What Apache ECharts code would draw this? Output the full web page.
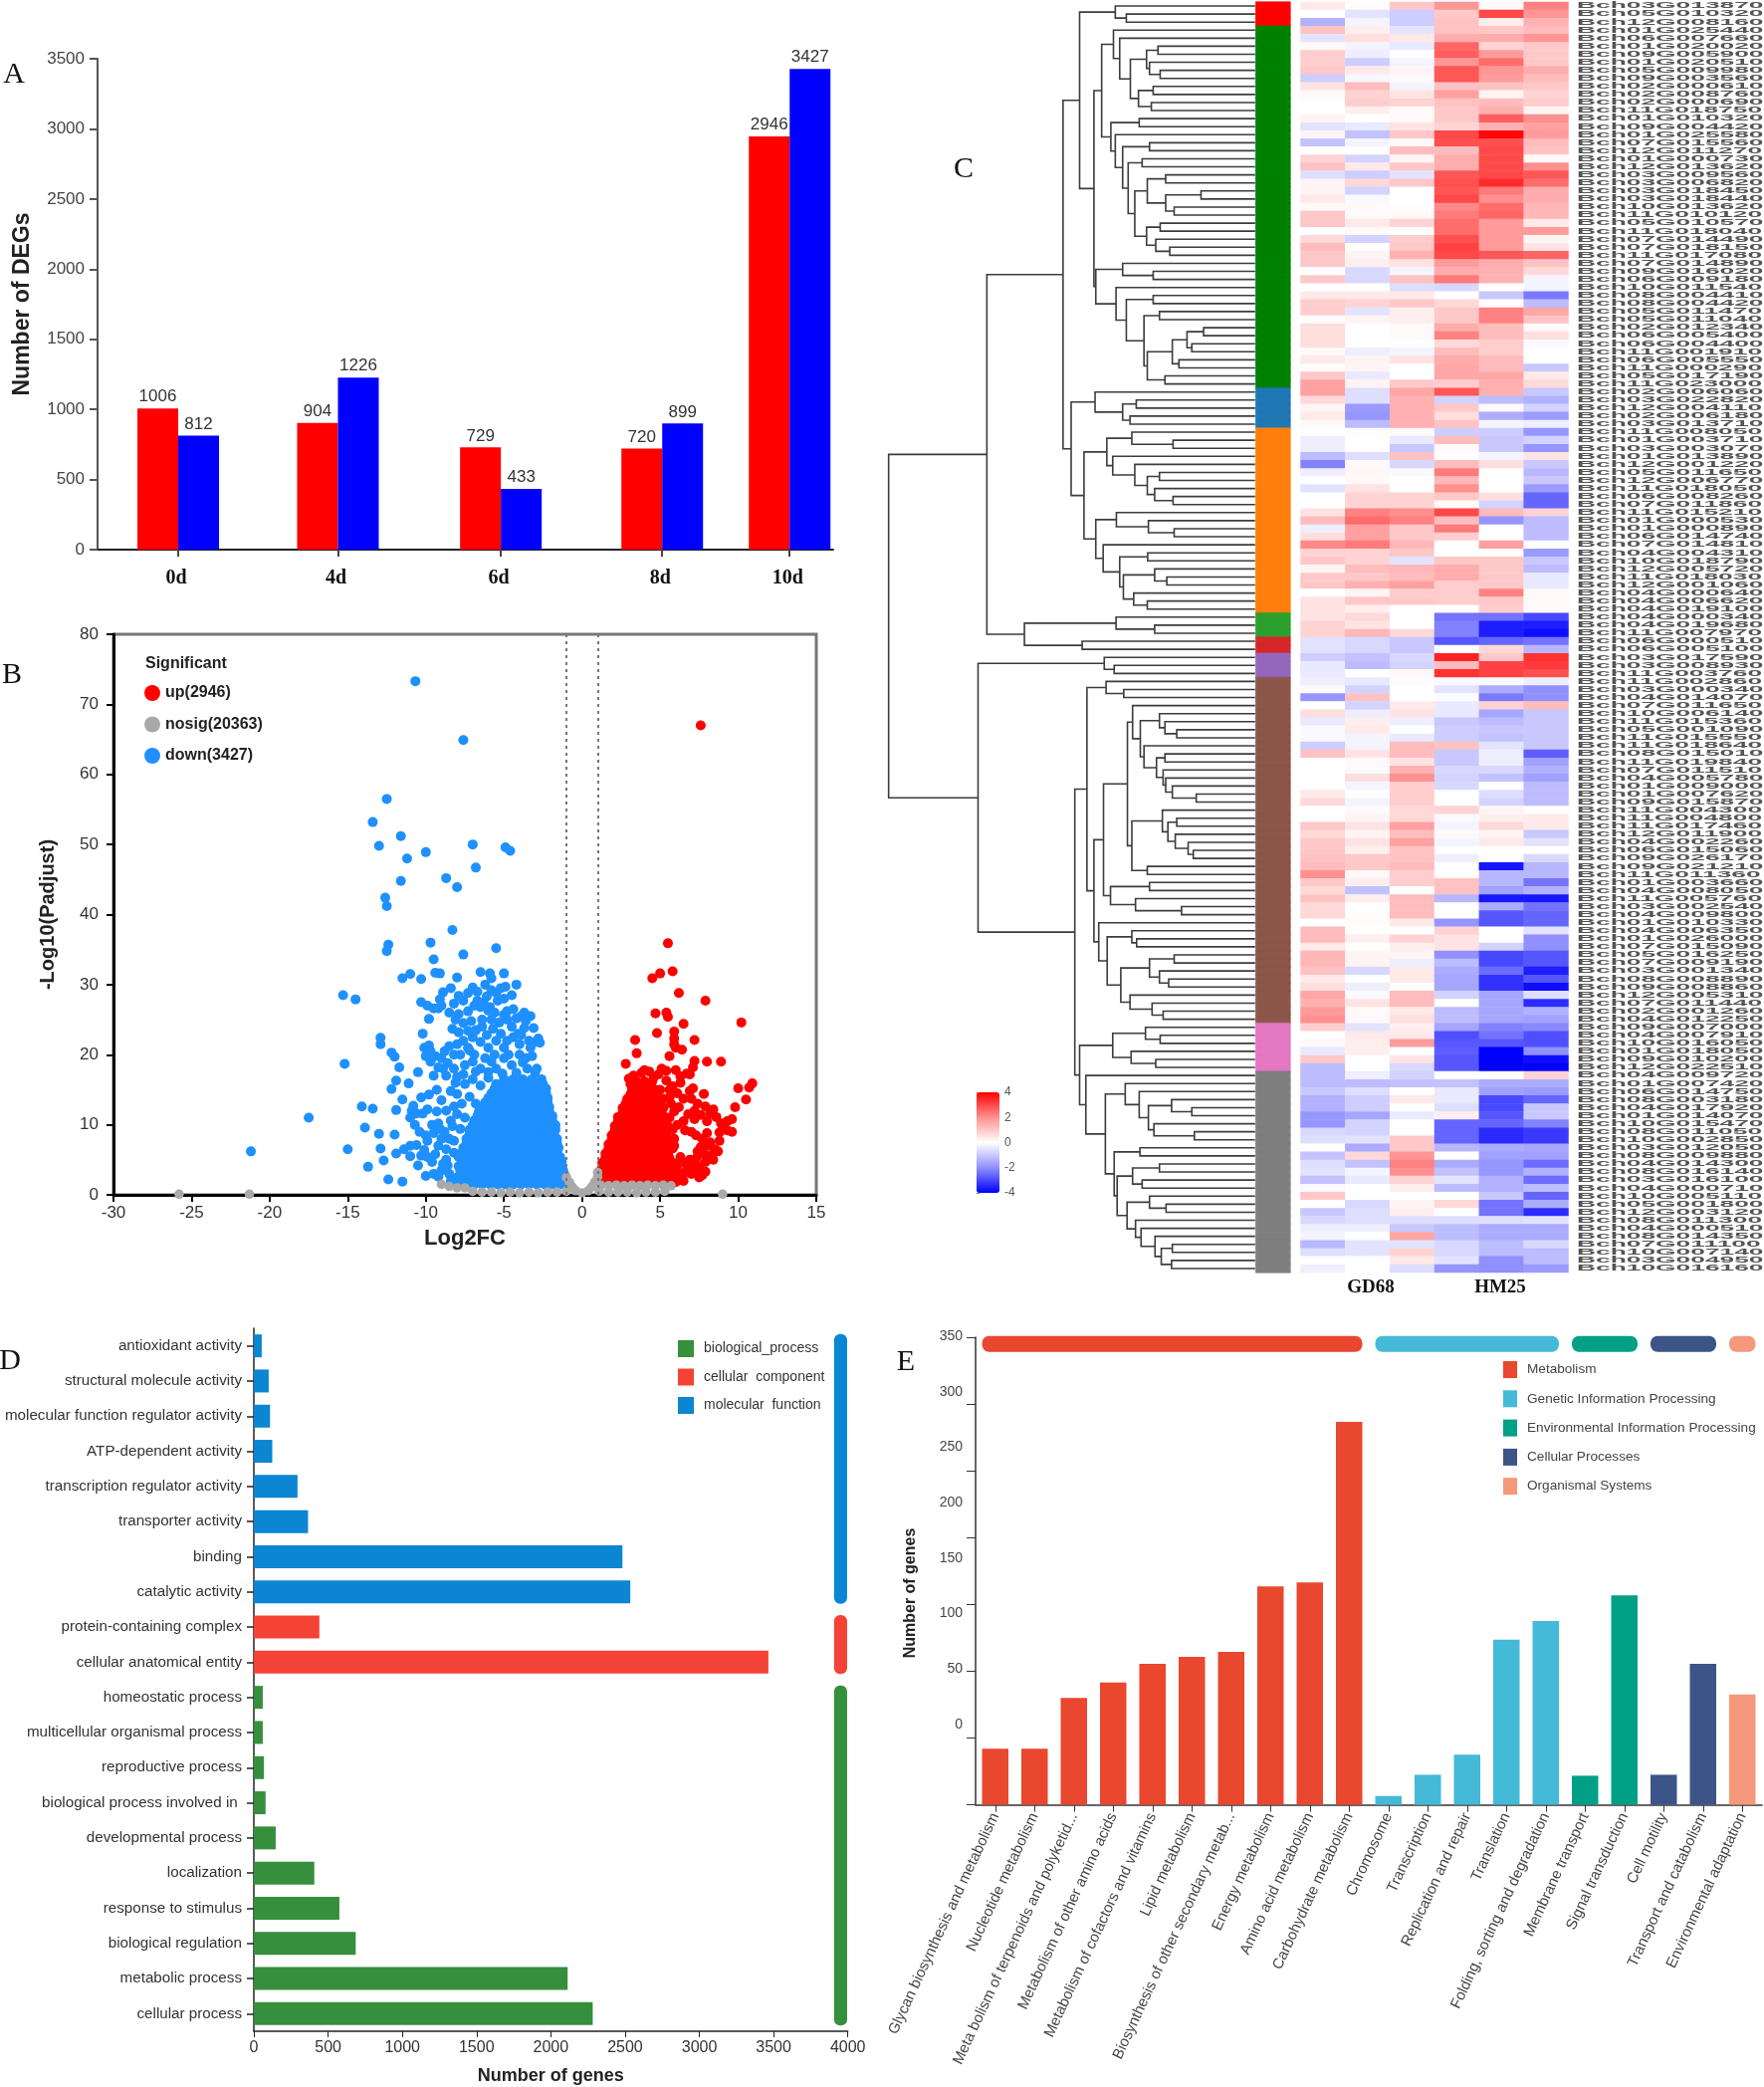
<!DOCTYPE html>
<html>
<head>
<meta charset="utf-8">
<title>DEG figure</title>
<style>
html, body { margin: 0; padding: 0; background: #fff; }
#main { width: 1772px; height: 2096px; }
</style>
<script src="https://cdn.jsdelivr.net/npm/echarts@6/dist/echarts.min.js"></script>
</head>
<body>
<div id="main"></div>
<script>
// A: DEG counts per day
var dayLabels = ['0d', '4d', '6d', '8d', '10d'];
var daySlots = [0, 0.99, 2, 3, 3.79];  // the days are not evenly spaced in the picture
var degUp = [1006, 904, 729, 720, 2946];
var degDown = [812, 1226, 433, 899, 3427];

var upPoints = [[7.6,67],[5.5,35.9],[5.8,31.9],[5,31.6],[4.5,30.9],[6.2,28.8],[7.9,27.7],[5.4,26],[4.7,25.9],[5.5,25.4],[6.5,24.4],[10.2,24.6],[5.9,23.3],[4.8,23.1],[5.9,22.3],[3.4,22.1],[7.2,22.1],[5.9,21.5],[6,21],[6.4,20.7],[3.5,20.2],[5.6,19.8],[7.2,19.1],[2.8,18.7],[8,19],[8.9,19],[7.1,18.2],[6.7,17.3],[6.9,17.2],
  [10.9,15.9],[10.7,15.3],[10,15.2],[10.5,13.6],[9.8,12.5],[9.6,10.8],[9.3,10.5],[9,9.9],[9.6,9],[8.8,8.9],[8.8,7.7],[8.2,11.6],[8,10.5],[7.8,14.4],[7.9,12.6],[7,13.7],[7.2,12],[6.9,14.8],
  [6,17.8],[5.4,17.7],[5.1,18],[4.9,17.2],[6.3,16],[6.1,14.5],[6.5,13.7],[6.2,12.5],[6.8,11.5],[7.2,10.8],[6.5,10.5],[5.8,15.5],[5.7,13],[5.6,11],[6.1,10],[7.7,8],[7.3,8.5],[7,9],[6.6,9.2],[8.2,7.5],[8.5,6.5],[8.7,6.2],[8,7],[7.6,6.8],[7.4,6.2],[7.8,5.8],[8.2,5.6],[8.4,5],[7.9,4.7],[7.3,5.2],[6.9,5],[7,4.2],[7.5,4],[7.9,3.3],[7.7,2.8],[7.4,3.2],[7.5,2.5],[6.7,3.5],[6.3,2.6],[6,1.8],[6.5,2],[7,3],[8,8.8],[5.9,8],[5.8,6.6],[6.3,5.4],[6.6,4.6],[6.1,4.2],
  [3.3,17],[3.8,17.4],[4.3,17.6],[4.6,16.8],[3.1,15.8],
  [3,16.6],[4,17.8],[5.4,16.3],[5.6,15],[5.6,13.9],[5.9,11.9],[5.8,9.3],[5.9,7],[6.1,3.3],[6.5,3],[6.3,16.9],[7.1,15.2],[7.4,13],[7.6,11.4],[8.4,12.2],[8.6,11.1],[8.9,10.2],[9.3,9.2]];
var upCoreRows = [
  [2, [1,1.5,2,2.5,3,3.5,4,4.5,5,5.5]],
  [2.65, [1.2,1.7,2.2,2.8,3.3,3.8,4.3,4.8,5.3,5.8]],
  [3.3, [1.1,1.6,2.1,2.6,3.1,3.6,4.1,4.6,5.1,5.6,6.1]],
  [3.95, [1.3,1.8,2.4,2.9,3.4,3.9,4.4,4.9,5.4,5.9]],
  [4.6, [1.3,1.8,2.3,2.8,3.3,3.8,4.3,4.8,5.3,5.8]],
  [5.25, [1.5,2,2.6,3.1,3.6,4.1,4.6,5.1,5.6]],
  [5.9, [1.5,2,2.5,3,3.5,4,4.5,5,5.5]],
  [6.55, [1.7,2.2,2.8,3.3,3.8,4.3,4.8,5.3]],
  [7.2, [1.7,2.2,2.7,3.2,3.7,4.2,4.7,5.2,5.6]],
  [7.85, [1.9,2.4,2.9,3.4,3.9,4.4,4.9,5.4]],
  [8.5, [1.9,2.4,2.9,3.4,3.9,4.4,4.9,5.4]],
  [9.15, [2.1,2.6,3.1,3.6,4.1,4.6,5.2]],
  [9.8, [2.1,2.6,3.1,3.6,4.1,4.6,5.1,5.5]],
  [10.45, [2.3,2.8,3.3,3.8,4.3,4.8,5.2]],
  [11.1, [2.3,2.8,3.3,3.8,4.3,4.8,5.3]],
  [11.75, [2.6,3.1,3.6,4.1,4.6,5.1]],
  [12.4, [2.6,3.1,3.6,4.1,4.6,5.2]],
  [13.05, [2.8,3.3,3.8,4.3,4.8]],
  [13.7, [2.9,3.4,3.9,4.4,4.9,5.2]],
  [14.35, [3.1,3.6,4.1,4.6]],
  [15, [3.2,3.7,4.2,4.7,5]],
  [15.6, [3.4,3.9,4.4]],
  [16.2, [3.5,4,4.5]]
];
var nosigPoints = [[-25.8,0.1],[-21.3,0.1],[9,0.1],[-9,1.5],[-8.5,1.2],[-8,1],[-7.5,1],[-1,2.5],[-0.8,1.8],[-0.6,1.1],[-0.4,0.6],[0,0.3],[0.4,0.6],[0.6,1.1],[0.8,1.8],[1,2.6],[1,3.2],
  [-7,0.5],[-6.4,0.4],[-5.8,0.4],[-5.2,0.3],[-4.6,0.4],[-4,0.3],[-3.4,0.4],[-2.8,0.3],[-2.2,0.4],[-1.6,0.4],[-1,0.5],
  [1.1,0.5],[1.7,0.4],[2.3,0.4],[2.9,0.4],[3.5,0.3],[4.1,0.4],[4.7,0.4],[5.3,0.5],
  [1.2,1.4],[1.7,1.3],[2.2,1.4],[2.7,1.3],[3.2,1.4],[3.7,1.3],[4.2,1.4],[4.7,1.3],[5.2,1.4],[5.7,1.3]];
var downPoints = [[-10.67,73.3],[-7.6,64.9],[-12.5,56.5],[-13.4,53.2],[-11.6,51.2],[-13,49.8],[-7,50],[-4.9,49.6],[-4.6,49.1],[-10,48.9],[-11.2,48],[-6.8,46.7],[-8.7,45.2],[-11.6,44.8],[-8,43.9],[-12.6,42.4],[-12.5,41.2],[-8.3,37.8],[-9.7,36],[-12.4,35.7],[-12.5,34.8],[-5.5,35.2],[-7.6,34.3],[-9.5,33.6],
  [-11,31.5],[-11.5,30.9],[-9.4,31.7],[-9.1,31.6],[-6.5,31.8],[-5.9,31.6],[-5.8,30.9],[-5,31.6],[-8,31],[-10.3,30.8],[-4.2,30],[-4.9,29.7],[-6.2,30],[-7,29.6],[-6.7,29],[-5.8,29.2],[-5.5,28.8],[-8.9,28.9],[-15.3,28.5],[-14.5,27.9],[-7.3,28.8],[-7.6,27.7],[-8.2,27.3],[-9.1,27.9],[-10.3,27.5],[-9.9,27],[-9.5,26.6],[-9.2,26.6],[-9,27],[-6.7,27.7],[-6.1,28.3],[-5.4,27.7],[-5,28],[-4.8,26.2],[-6.5,26.8],[-6,26.3],[-3.7,26],[-3.9,25.5],[-4.2,25.2],[-9.8,25.1],[-7.3,26.2],[-7.9,25.8],[-4.8,25],[-5.3,24.6],[-7.6,24.5],[-8.3,23.7],[-7.9,23.2],[-5.7,23.7],[-5.2,23],[-3.1,23.8],[-4.5,24],
  [-12.9,22.4],[-12.9,21.5],[-12.2,20.3],[-12,19.7],[-15.2,18.7],[-11.7,18.2],[-10.2,23],[-9.8,21.3],[-9.7,20.5],[-9.4,19.8],[-9,19.5],[-8.6,18.8],[-8,21.5],[-8.5,21.2],[-7.6,22],[-7,22.5],[-6.5,21.8],[-6,21],[-5.6,20],[-5,21],[-4,20],[-3.6,19.5],[-3,21.8],[-3.4,22],[-4.4,22.5],[-6.8,23.5],[-10.5,17.5],[-9.5,17],[-8.7,17],[-8.2,18],[-7.5,18.5],[-7,19],[-6.5,18],[-6,17.5],[-5.5,18],[-4.5,18.5],[-3.5,18],[-3,17.5],[-7.8,20],[-6.2,19.5],[-5,19.5],[-3.2,19.8],[-8.8,20.5],[-7.2,20.6],
  [-11.9,16.3],[-12.2,15.1],[-11.1,15.9],[-11.5,13.6],[-10.3,13.9],[-9.8,14.3],[-8,14.4],[-10.8,12.7],[-10.9,12],[-10.6,11.6],[-10.2,11.6],[-14.1,12.6],[-13.4,12.3],[-11.9,12.1],[-17.5,11],[-13.9,9.6],[-13,8.7],[-12,8.6],[-11,11],[-10.7,10],[-10.4,9],[-10,8.5],[-9.6,10],[-9.2,10.2],[-8.8,9],[-8.5,8],[-9.9,7.7],[-9.2,7],[-8.7,6.5],[-12.9,6.6],[-15,6.5],[-21.2,6.2],[-11.9,5.9],[-11.4,6.5],[-11,7],[-11,5.5],[-10.3,5.6],[-10.5,4.2],[-13.7,4],[-12.7,4.9],[-12.4,2.2],[-11.5,1.9],[-10,2.7],[-9.5,3],[-9,3.5],[-8.5,3],[-8,2.5],[-8.7,5],[-8.2,6],[-7.9,1.6],[-9.6,4.7],[-9.2,2.6],
  [-8.1,16],[-7.5,15.8],[-7,16.5],[-6.5,15.6],[-6,16.7],[-7.7,13],[-7.2,14],[-6.8,13],[-8,11.5],[-7.5,11],[-8.3,9.8],[-7.8,9.4],[-8.2,7.7],[-8.6,4.2],[-8.4,2],
  [-8.5,26],[-8.1,25],[-7.1,24.8],[-6.4,25],[-5.8,25],[-4.1,23],[-3.7,23.8],[-3.3,21],[-4.8,22],[-5.5,22],[-6.1,22.8],[-7.3,21],[-8.2,20],[-6.9,20],[-5.8,19],[-4.7,20],[-4,21.5],[-3.8,18.9],[-2.9,18],[-4.2,17.4],[-5.1,17.3],[-6.8,17.6],[-7.6,17.2],[-8,16.8],[-8.9,18],[-9.2,18.2],[-9.7,19],[-10,19.8],[-10.1,21],[-7.3,23.4],[-6.4,24],[-5.9,26.8],[-5,25.7],[-4.4,26.5],[-5.6,26],[-6.9,27],[-7.9,28.4],[-8.4,29.5],[-6.3,27.4],[-5.2,29.5],[-4.5,28.5],[-3.6,24.8],[-3.3,25.5],[-2.8,22.3],[-2.7,21.7],[-3.9,22.8],[-9.3,15],[-9,13.5],[-8.7,12],[-9.3,11.9],[-9.9,12.2],[-9.5,8.8],[-9,8],[-9.4,5.8],[-8.9,4.4],[-9.9,5.4],[-10.6,7.1],[-10.1,6.4],[-9.1,9.4],[-8.4,10.6],[-8.2,12.6],[-8.4,14.8]];
var downCoreRows = [
  [1.5, [-7.4,-6.9,-6.4,-5.9,-5.4,-4.9,-4.4,-3.9,-3.4,-2.9,-2.4,-1.9,-1.4,-0.9]],
  [2.15, [-7.5,-7,-6.5,-6,-5.5,-5,-4.5,-4,-3.5,-3,-2.5,-2,-1.5,-1]],
  [2.8, [-7.7,-7.2,-6.7,-6.2,-5.7,-5.2,-4.7,-4.2,-3.7,-3.2,-2.7,-2.2,-1.7,-1.1]],
  [3.45, [-7.8,-7.3,-6.8,-6.3,-5.8,-5.3,-4.8,-4.3,-3.8,-3.3,-2.8,-2.3,-1.8,-1.2]],
  [4.1, [-7.9,-7.4,-6.9,-6.4,-5.9,-5.4,-4.9,-4.4,-3.9,-3.4,-2.9,-2.4,-1.9,-1.3]],
  [4.75, [-7.7,-7.2,-6.7,-6.2,-5.7,-5.2,-4.7,-4.2,-3.7,-3.2,-2.7,-2.2,-1.7,-1.3]],
  [5.4, [-7.9,-7.4,-6.9,-6.4,-5.9,-5.4,-4.9,-4.4,-3.9,-3.4,-2.9,-2.4,-1.9,-1.4]],
  [6.05, [-7.7,-7.2,-6.7,-6.2,-5.7,-5.2,-4.7,-4.2,-3.7,-3.2,-2.7,-2.2,-1.6]],
  [6.7, [-7.6,-7.1,-6.6,-6.1,-5.6,-5.1,-4.6,-4.1,-3.6,-3.1,-2.6,-2.1,-1.5]],
  [7.35, [-7.4,-6.9,-6.4,-5.9,-5.4,-4.9,-4.4,-3.9,-3.4,-2.9,-2.4,-1.9,-1.6]],
  [8, [-7.4,-6.9,-6.4,-5.9,-5.4,-4.9,-4.4,-3.9,-3.4,-2.9,-2.4,-1.9,-1.6]],
  [8.65, [-7.2,-6.7,-6.2,-5.7,-5.2,-4.7,-4.2,-3.7,-3.2,-2.7,-2.2,-1.8]],
  [9.3, [-7.2,-6.7,-6.2,-5.7,-5.2,-4.7,-4.2,-3.7,-3.2,-2.7,-2.2,-1.7]],
  [9.95, [-7,-6.5,-6,-5.5,-5,-4.5,-4,-3.5,-3,-2.5,-2,-1.7]],
  [10.6, [-6.9,-6.4,-5.9,-5.4,-4.9,-4.4,-3.9,-3.4,-2.9,-2.4,-1.9]],
  [11.25, [-6.7,-6.2,-5.7,-5.2,-4.7,-4.2,-3.7,-3.2,-2.7,-2.2,-1.9]],
  [11.9, [-6.6,-6.1,-5.6,-5.1,-4.6,-4.1,-3.6,-3.1,-2.6,-2.1]],
  [12.55, [-6.4,-5.9,-5.4,-4.9,-4.4,-3.9,-3.4,-2.9,-2.4,-2.1]],
  [13.2, [-6.2,-5.7,-5.2,-4.7,-4.2,-3.7,-3.2,-2.7,-2.2]],
  [13.85, [-6,-5.5,-5,-4.5,-4,-3.5,-3,-2.5,-2.2]],
  [14.5, [-5.8,-5.3,-4.8,-4.3,-3.8,-3.3,-2.8,-2.3]],
  [15.15, [-5.6,-5.1,-4.6,-4.1,-3.6,-3.1,-2.6,-2.3]],
  [15.8, [-5.5,-5,-4.5,-4,-3.5,-3,-2.5]],
  [16.5, [-5,-4.4,-3.8,-3.2,-2.6]]
];
var foldCuts = [-1, 1];

// C: cluster sizes and colours from top to bottom
var clusterSizes = [3, 45, 5, 23, 3, 2, 3, 43, 6, 25];
var clusterColors = ['#ff0000', '#008000', '#1f77b4', '#ff7f0e', '#2ca02c', '#d62728', '#9467bd', '#8c564b', '#e377c2', '#7f7f7f'];
var heatColumns = ['GD68-1', 'GD68-2', 'GD68-3', 'HM25-1', 'HM25-2', 'HM25-3'];
var heatValues = [
  [.4,.05,1,1.9,.1,2.2],[0,-.5,-.9,1,3,1.9],[-1.4,-.2,-.9,1.1,.3,1.4],
  [1.1,.3,-.5,1.1,1,1.2],[-.5,.6,.4,1.5,1.5,1.9],[.1,-.2,-.4,2.6,.8,1],[.9,-.3,0,2.7,1.8,1],[.9,-.9,-.2,1.9,2.5,1],[1,.4,.2,2.8,1.9,1.5],[-.9,-.15,.1,2.8,1.8,1.2],[.5,1.2,-.2,1.1,1.1,1],[.1,.8,.5,1.7,.2,.8],[0,.9,.8,1.1,1.2,.9],
  [0,.3,.1,1,1.4,.2],[.2,0,.1,1,2.7,2],[-.5,-.4,.5,.8,1.4,1.7],[.2,-1.1,1,3,3.9,1.8],[-1.1,-.2,.1,2.9,2.9,1.2],[0,0,1.2,1.2,3,1.1],[.8,-.8,.2,1.5,3,.1],[1.1,.4,1,1.5,3,2],[-.6,-.9,-.5,2.8,3,2.8],[.2,.7,1,2.9,3.4,2.5],
  [.2,-.8,0,2.8,2.3,1.5],[.4,-.1,0,3,2,1.5],[.1,.1,.05,2.1,2.5,1.3],[1,.1,.1,2.3,2.6,1.3],[1,.4,.8,2.5,1.8,.4],[0,.1,.05,2.5,1.8,1.8],[.7,-.8,.9,2.9,1.8,.2],[1.2,.05,1,3.1,1.8,.5],[1,.2,1.4,3,2.8,2.6],
  [1,.3,.5,1.8,1.5,1.1],[0,-.7,-.2,1.5,1.4,.7],[1,-.7,1.1,2.3,1.4,-.2],[0,0,-.6,-.7,0,-.2],[.4,.4,.4,0,-1,-2.3],[.9,.8,1,.7,0,-1.2],[.9,-.5,.3,1,2.2,1.6],[.05,.2,.3,1,2.2,1.1],[.6,0,.1,1.5,1.2,.1],[.6,0,.1,2.2,1.2,.6],[.6,0,0,.7,.9,-.1],[.1,-.3,-.2,1.2,.9,0],[.4,.2,.5,1.5,1.2,0],[.05,.2,0,1.6,1.2,-1],[1,-.4,0,1.6,1.6,.4],[1.7,.2,1,.9,1.4,.7],
  [1.7,-.6,1.6,2.8,1.4,-1],[.7,-.6,1.4,-.8,-1.2,-1.4],[.2,-1.8,1.4,1,.1,-.8],[.4,-1.9,1.4,.6,-1.5,-1.8],[.1,-1.2,1.4,1.1,-.2,-.3],
  [0,.05,.1,-.9,-.9,-1.9],[-.3,0,-.4,1.2,-1,-.8],[-.3,0,-1,.1,-1,-1.9],[-1.2,-.6,1.1,0,-.2,.5],[-2.2,.1,-.7,1.2,.6,-1],[-.3,.15,-.1,2.3,0,-1.3],[0,.1,0,1.3,0,-1],[-.5,.5,0,2,0,-1.8],[0,.8,.8,1,.6,-2.6],[0,.8,.8,.1,-.8,-2.6],
  [.5,2.2,2,3,1.2,.8],[1.2,2.5,2.2,1.2,-1.9,-1.2],[-.3,1.7,1,2.3,0,-1.2],[.6,1.7,1,.9,0,-1.2],[2.1,2.3,1.3,0,1.7,0],[.8,.8,1,0,0,-1.8],[1,.8,-.5,1,1,-1],[.2,1.2,1.3,1.5,1,-1.2],[1,1,1.2,1.5,1,-.4],[1,1.4,1.7,.9,1,-.4],[0,.2,.9,.9,2.2,.1],[.5,1,1,.9,1,.1],[.5,.3,0,0,.9,.1],
  [.5,.7,0,-2.4,-2.4,-3],[.8,.5,0,-2.2,-3.6,-3.6],[.8,1.3,.7,-2.2,-3.6,-3.8],
  [-.5,-.7,-1,-2.8,-2.6,-2.4],[-.5,-.7,-1,0,.7,-1.3],
  [-.9,-1.1,-.7,3.5,1,3.3],[-.4,-1.2,-.8,1.2,3.1,3.2],[-.4,0,.1,3.3,3.1,2.9],
  [-.3,-.4,-.05,-.1,-.1,-.3],[.1,-.8,0,-.5,-1.5,-2],[-1.9,1.1,0,-.05,-2.3,-2],[0,-.8,.4,-.4,.8,1.2],[.6,-.3,.5,-.4,-1.6,-1],[-.4,.3,-.3,-1,-1.2,-1],[-.1,.4,0,-.9,-1,-1],[-.1,-.2,-.4,-.9,-1.1,-1],[-.9,-.2,1.2,1.1,-.5,-1],[1.1,.5,1.2,-1,-.3,-2.7],[0,.1,.5,-1,-.3,-1.7],
  [0,-.1,1.4,-.7,-.7,-1.4],[0,.6,2,-.8,-1.1,-1.7],[0,-.2,.9,-.7,0,-1.2],[.4,0,.9,0,-.6,-1.2],[.7,-.2,.9,0,-.8,-1.2],[0,.1,.7,.8,.2,0],[0,.2,.7,-.1,.3,.4],[1,.5,1.7,-.2,.7,.4],[.7,.2,1.2,.1,.2,-1],[1,.5,1.7,-.2,.4,-.5],[1,.3,1.1,0,0,0],[1.1,1,1.1,-.3,0,-.7],[1.2,1,1.2,0,-3.7,-1.3],[2,.1,.9,0,-1.3,-1.3],[1,.3,.9,1.1,-1.3,-2.4],[.7,-1.1,0,1.1,-1.7,-1.4],[1.1,.3,1.2,-1.3,-3.7,-3.7],[.7,0,1.2,0,-1.5,-2.4],[.7,.05,1.2,0,-2.8,-2.6],[0,.05,.4,-1.9,-2.8,-2.6],[1.2,0,0,.8,0,-.5],[1.2,.3,.8,.5,0,-2],[.4,0,.3,.5,-.8,-2],[1.3,.2,.2,-2,-3,-2.8],[1.3,.2,-.3,-1.2,-3,-2.8],[1.1,-.7,.4,-1.5,-2.5,-3.6],[.4,0,.4,-1.6,-3.3,-2.8],[.6,-.3,0,-1.6,-3.3,-3.8],[1.6,-.1,1.2,-.8,-1.6,-.6],[1.4,.5,1.2,0,-1.6,-3.4],[1.8,.1,.4,-1.2,-1.6,-1.4],[2,.1,.6,-1.2,-1.6,-1.7],
  [.9,-.5,.3,-1.6,-2.2,-2.1],[0,.4,.4,-2.9,-2.4,-2.9],[.1,.3,1.8,-2.8,-2.8,-2.9],[-.4,.3,0,-2.7,-4,-2],[1,0,.5,-2.8,-4,-3.8],[-1.2,0,-.7,-2.8,-4,-4],
  [-1.2,-.3,-.8,0,0,.8],[-1.2,-1.2,-1.1,-1.1,-1.5,-1.5],[-1,-.6,0,-.4,-1.7,-1.8],[-1.4,-.9,.4,-.4,-3,-2.6],[-1.4,-.9,0,-.6,-3,-1],[-1.9,-1.6,-.4,.3,-2.8,-1],[-1.9,-.8,0,-2.6,-2.6,-2.2],[-.7,-.8,0,-2.6,-3.4,-3.2],[-.6,-.5,1,-2.6,-3.4,-3.2],[0,-1.5,1,-1.3,-1.5,-1.6],[-1.1,.7,1.9,0,-1.7,-1.7],[-.6,-1.1,2.2,-1.5,-1.9,-2.5],[-.5,-.2,2,-1.1,-1.9,-1.4],[-1.1,-.4,.8,-.5,-1.4,-2.5],[-.1,0,.3,-1.2,-1.4,-1.2],[1,0,0,0,-1,-2.6],[0,-.7,.2,.7,-2.4,-1.5],[-1,-.6,.3,0,-2.4,-3.4],[-.7,-.6,-.6,-.6,-.6,-.5],[-.3,-.3,-1,-1.2,-1.5,-1.5],[-.2,0,1.6,-1.2,-1.5,-1.5],[-1.3,-.5,-.5,-.7,-1.2,-.7],[-.6,-.5,.8,-.7,-1.2,-1.2],[0,0,.4,-.5,-2,-1.2],[-.3,0,-.6,-1.9,-2,-1.8]
];
var geneLabels = ['Bch03G013870','Bch05G010320','Bch12G008160','Bch01G025440','Bch06G007660','Bch01G020020','Bch09G005900','Bch01G020510','Bch05G009980','Bch09G003560',
  'Bch02G000610','Bch02G008760','Bch02G000690','Bch11G018750','Bch01G010320','Bch09G004420','Bch01G025580','Bch07G015560','Bch12G011270','Bch01G000730',
  'Bch12G013620','Bch03G009560','Bch03G006820','Bch03G018450','Bch03G018440','Bch10G013620','Bch11G010120','Bch05G010570','Bch11G018040','Bch07G014490',
  'Bch07G018150','Bch11G017080','Bch07G014890','Bch09G016020','Bch06G009180','Bch10G011540','Bch08G004410','Bch08G004420','Bch05G011470','Bch05G011040',
  'Bch02G012340','Bch06G005400','Bch06G004400','Bch11G001910','Bch06G005550','Bch11G000290','Bch05G017190','Bch11G023000','Bch02G006060','Bch03G022820',
  'Bch12G004110','Bch02G006180','Bch03G013710','Bch11G008050','Bch01G003710','Bch03G003070','Bch01G013890','Bch12G001220','Bch05G011650','Bch12G006770',
  'Bch11G018050','Bch06G008260','Bch07G011860','Bch11G015210','Bch01G000530','Bch01G000890','Bch06G014740','Bch07G014810','Bch04G004310','Bch10G018790',
  'Bch12G005720','Bch11G018030','Bch12G001060','Bch04G000640','Bch04G006620','Bch04G019100','Bch04G000340','Bch04G019680','Bch11G007970','Bch06G000510',
  'Bch06G005100','Bch03G017590','Bch03G008930','Bch11G003760','Bch11G002860','Bch03G000340','Bch04G014070','Bch07G011650','Bch10G006140','Bch11G015360',
  'Bch05G001090','Bch11G015550','Bch11G018640','Bch08G015010','Bch11G019840','Bch07G011510','Bch04G005780','Bch01G009000','Bch01G007620','Bch09G015870',
  'Bch11G004300','Bch11G004800','Bch11G017460','Bch12G011900','Bch04G002260','Bch06G015060','Bch09G026170','Bch09G021210','Bch11G011360','Bch01G003660',
  'Bch04G008050','Bch11G005760','Bch03G002540','Bch04G009800','Bch01G010330','Bch04G006350','Bch01G026000','Bch07G015090','Bch05G016250','Bch07G009190',
  'Bch03G001340','Bch08G008890','Bch09G008860','Bch12G005310','Bch07G011440','Bch02G001260','Bch04G012250','Bch09G007000','Bch04G007910','Bch10G016050',
  'Bch01G018050','Bch09G010200','Bch12G022510','Bch04G009720','Bch01G007420','Bch06G014750','Bch08G003180','Bch04G017920','Bch01G014070','Bch10G015470',
  'Bch08G011050','Bch10G002850','Bch03G012050','Bch08G009880','Bch04G014300','Bch08G016140','Bch03G016100','Bch04G000710','Bch10G005110','Bch05G001800',
  'Bch12G003120','Bch08G011300','Bch04G000510','Bch08G014350','Bch07G011100','Bch10G007140','Bch03G004950','Bch10G016160'];

// dendrogram: [height, upper child, lower child], 0 is a leaf and takes the next row
var treeRed = [38, 0, [35, 0, 0]];
var treeGreenA = [38.5, 0, [36.8, 0, [33.9, [29.5, [26.4, 0, 0], [28.7, 0, [25.8, 0, 0]]], [31.7, [27.7, 0, 0], [28.2, 0, 0]]]]];
var treeGreenB = [39.2, [31.5, 0, 0], [38, 0, [36, [28.7, 0, 0], [34.5, [30.7, 0, 0], [32.7,
  [29.3, [24.3, 0, 0], [24.3, [14.7, 0, 0], [22, 0, 0]]],
  [29.5, [25.8, 0, 0], [27, 0, [23.2, 0, 0]]]]]]]];
var treeGreenC = [43.3, [36, 0, [27.7, 0, 0]], [37.8, 0, [35, [27.7, 0, 0], [30.2, [26, 0, 0], [29.3,
  [22.5, [18.5, [14, 0, 0], [17.2, 0, 0]], [20.7, 0, 0]],
  [24.5, 0, 0]]]]]];
var treeGreen = [43.8, [41.7, treeGreenA, treeGreenB], treeGreenC];
var treeBlue = [43.5, 0, [36, [32.3, 0, 0], [34, 0, 0]]];
var treeOrange1 = [40.3, [33.5, 0, [22.3, 0, 0]], [38.7, 0, [32.7, 0, [29.3, [26, 0, 0], [27.3, 0, [22.3, 0, 0]]]]]];
var treeOrange2 = [43.3, [37.7, 0, [29, 0, [22, 0, 0]]], [41.3, 0, [36.8, [29.2, 0, 0], [35.8, [27.3, 0, [24, 0, 0]], [33, 0, [29.3, 0, 0]]]]]];
var treeSmall = [62.7, [37.8, 0, [27.3, 0, 0]], [47, 0, 0]];
var treePurple = [41, 0, [38.3, 0, 0]];
var treeBrown1 = [40.5, 0, [35.7, 0, 0]];
var treeBrown2 = [33.3, 0, [31.2, [26, 0, [24.5, 0, [21.3, 0, 0]]], [30.2, 0, [26.8, [24.5, 0, 0], [25, 0, [24.3, 0, [22.5, 0, [16, 0, 0]]]]]]]];
var treeBrown3 = [33.5, [25.2, 0, [23.7, [21.3, 0, 0], [21.7, 0, [18.2, 0, [16.8, 0, 0]]]]], [29.3, 0, 0]];
var treeBrown4 = [39.3, [28.7, 0, 0], [32.5, 0, [20, 0, 0]]];
var treeBrown5 = [42.5, 0, [40.2, [33.5, 0, [32.2, 0, 0]], [36.5, [28.7, [22, 0, 0], [26, 0, [23.5, 0, 0]]], [34, 0, [28, 0, [25, 0, 0]]]]]];
var treePink = [38.7, [29.8, 0, [25.8, 0, 0]], [33.7, 0, [27, 0, 0]]];
var treeGray1 = [35.3, 0, [31.5, 0, [29, [22.7, 0, [17.2, 0, 0]], [27.5, 0, [16.5, 0, 0]]]]];
var treeGray2 = [38.3, [31.3, 0, 0], [37.5, [33.3, [26, 0, 0], [30.7, 0, 0]], [34.8, [28.7, 0, [24.2, 0, 0]], [32.5, 0, [31, 0, [27.2, 0, [25.5, [22.5, 0, 0], [22.7, 0, 0]]]]]]]];
var treeGray = [46, 0, [40.7, treeGray1, treeGray2]];
var treeTop = [72.9, [52.2, [47.7, treeRed, treeGreen], [50, treeBlue, [46.5, treeOrange1, treeOrange2]]], treeSmall];
var treeBottom = [75.3, treePurple, [49, [45.7, treeBrown1, [43.8, [41.2, [34.7, treeBrown2, treeBrown3], treeBrown4], treeBrown5]], [47.7, treePink, treeGray]]];
var treeRoot = [99.6, treeTop, treeBottom];

// D: GO classes, listed from the top of the plot
var goTerms = ['antioxidant activity', 'structural molecule activity', 'molecular function regulator activity', 'ATP-dependent activity', 'transcription regulator activity', 'transporter activity', 'binding', 'catalytic activity', 'protein-containing complex', 'cellular anatomical entity', 'homeostatic process', 'multicellular organismal process', 'reproductive process', 'biological process involved in ', 'developmental process', 'localization', 'response to stimulus', 'biological regulation', 'metabolic process', 'cellular process'];
var goCounts = [53, 100, 109, 124, 294, 365, 2482, 2535, 441, 3465, 60, 60, 68, 79, 147, 407, 576, 686, 2113, 2282];
var goGroupNames = ['biological_process', 'cellular  component', 'molecular  function'];
var goGroupSpans = [[10, 19], [8, 9], [0, 7]];
var goGroupColors = ['#368f3c', '#f44336', '#0a86d2'];

// E: KEGG classes
var keggTerms = ['Glycan biosynthesis and metabolism', 'Nucleotide metabolism', 'Meta bolism of terpenoids and polyketid...', 'Metabolism of other amino acids', 'Metabolism of cofactors and vitamins', 'Lipid metabolism', 'Biosynthesis of other secondary metab...', 'Energy metabolism', 'Amino acid metabolism', 'Carbohydrate metabolism', 'Chromosome', 'Transcription', 'Replication and repair', 'Translation', 'Folding, sorting and degradation', 'Membrane transport', 'Signal transduction', 'Cell motility', 'Transport and catabolism', 'Environmental adaptation'];
var keggCounts = [42, 42, 80, 91.5, 105.5, 110.7, 114.4, 163.5, 166.4, 286.7, 6.6, 22.5, 37.6, 123.6, 137.6, 21.8, 156.8, 22.5, 105.5, 82.7];
var keggGroupNames = ['Metabolism', 'Genetic Information Processing', 'Environmental Information Processing', 'Cellular Processes', 'Organismal Systems'];
var keggGroupSpans = [[0, 9], [10, 14], [15, 16], [17, 18], [19, 19]];
var keggGroupColors = ['#e9472e', '#45b9d8', '#00a087', '#3c5488', '#f6987c'];

var SANS = '"Liberation Sans", Arial, sans-serif';
var SERIF = '"Liberation Serif", "Times New Roman", serif';

var chart = echarts.init(document.getElementById('main'), null, {renderer: 'canvas'});

function rowsToPoints(rows) {
    var out = [];
    rows.forEach(function (r) {
        r[1].forEach(function (x) { out.push([x, r[0]]); });
    });
    return out;
}

function plainNumber(v) {
    return String(v);
}

// 把聚类树拆成一段段的括号
var treeBrackets = [];
var leafCursor = 0;
function walkTree(node) {
    if (node === 0) {
        leafCursor++;
        return {h: 0, y: leafCursor - 0.5};
    }
    var a = walkTree(node[1]);
    var b = walkTree(node[2]);
    treeBrackets.push([node[0], a.y, b.y, a.h, b.h]);
    return {h: node[0], y: (a.y + b.y) / 2};
}
walkTree(treeRoot);

var heatCells = [];
heatValues.forEach(function (row, r) {
    row.forEach(function (v, c) { heatCells.push([c, r, v]); });
});
var clusterCells = [];
clusterSizes.forEach(function (size, i) {
    for (var k = 0; k < size; k++) {
        clusterCells.push({value: [0, clusterCells.length, i], itemStyle: {color: clusterColors[i], borderColor: clusterColors[i], borderWidth: 0.6}});
    }
});

function groupValues(values, span) {
    return values.map(function (v, i) { return (i >= span[0] && i <= span[1]) ? v : null; });
}

var rowNames = geneLabels;
var TREE_TOP = 2, TREE_H = 1276;

var series = [];
// A
series.push({type: 'bar', name: 'up', xAxisIndex: 0, yAxisIndex: 0, barWidth: 41, barGap: 0,
    data: daySlots.map(function (s, i) { return [s, degUp[i]]; }), itemStyle: {color: '#ff0000'},
    label: {show: true, position: 'top', distance: 3, color: '#333', fontSize: 17, fontFamily: SANS, formatter: function (p) { return p.value[1]; }}});
series.push({type: 'bar', name: 'down', xAxisIndex: 0, yAxisIndex: 0, barWidth: 41, barGap: 0,
    data: daySlots.map(function (s, i) { return [s, degDown[i]]; }), itemStyle: {color: '#0000ff'},
    label: {show: true, position: 'top', distance: 3, color: '#333', fontSize: 17, fontFamily: SANS, formatter: function (p) { return p.value[1]; }}});
// B
series.push({type: 'scatter', name: 'up(2946)', xAxisIndex: 1, yAxisIndex: 1, symbolSize: 10,
    data: upPoints.concat(rowsToPoints(upCoreRows)), itemStyle: {color: '#ff0000', opacity: 1}});
series.push({type: 'scatter', name: 'down(3427)', xAxisIndex: 1, yAxisIndex: 1, symbolSize: 10,
    data: downPoints.concat(rowsToPoints(downCoreRows)), itemStyle: {color: '#1e90ff', opacity: 1}});
series.push({type: 'scatter', name: 'nosig(20363)', xAxisIndex: 1, yAxisIndex: 1, symbolSize: 9.5,
    data: nosigPoints, itemStyle: {color: '#a9a9a9', opacity: 1},
    markLine: {silent: true, symbol: 'none', label: {show: false},
        lineStyle: {color: '#777', type: [3, 4], width: 2},
        data: foldCuts.map(function (c) { return {xAxis: c}; })}});
// C dendrogram
series.push({type: 'custom', xAxisIndex: 2, yAxisIndex: 2, data: treeBrackets, silent: true,
    encode: {x: 0, y: 1},
    renderItem: function (params, api) {
        var h = api.value(0), y1 = api.value(1), y2 = api.value(2), ha = api.value(3), hb = api.value(4);
        return {type: 'polyline', shape: {points: [api.coord([ha, y1]), api.coord([h, y1]), api.coord([h, y2]), api.coord([hb, y2])]},
            style: {stroke: '#3c3c3c', lineWidth: 1.6, fill: null}};
    }});
// C cluster strip
series.push({type: 'heatmap', xAxisIndex: 3, yAxisIndex: 3, data: clusterCells, silent: true, progressive: 0});
// C heatmap
var heatSeriesIndex = series.length;
series.push({type: 'heatmap', xAxisIndex: 4, yAxisIndex: 4, data: heatCells, silent: true, progressive: 0});
// C gene labels
series.push({type: 'custom', xAxisIndex: 5, yAxisIndex: 5, silent: true,
    data: geneLabels.map(function (g, i) { return [0, i + 0.5]; }),
    encode: {x: 0, y: 1},
    renderItem: function (params, api) {
        var p = api.coord([0, api.value(1)]);
        return {type: 'text', x: p[0], y: p[1], scaleX: 3.1,
            style: {text: geneLabels[params.dataIndex], fontSize: 8.5, fontFamily: SANS, fontWeight: 'bold', fill: '#555', verticalAlign: 'middle', align: 'left'}};
    }});
// D
goGroupNames.forEach(function (name, i) {
    series.push({type: 'bar', name: name, xAxisIndex: 7, yAxisIndex: 7, stack: 'go', barWidth: 23,
        data: groupValues(goCounts, goGroupSpans[i]), itemStyle: {color: goGroupColors[i]}});
});
series.push({type: 'custom', xAxisIndex: 7, yAxisIndex: 7, silent: true,
    data: goGroupSpans.map(function (s) { return [3907, s[0]]; }), encode: {x: 0, y: 1},
    renderItem: function (params, api) {
        var span = goGroupSpans[params.dataIndex];
        var half = api.size([0, 1])[1] * 0.34;
        var a = api.coord([3907, span[0]]), b = api.coord([3995, span[1]]);
        return {type: 'rect', shape: {x: a[0], y: a[1] - half, width: b[0] - a[0], height: b[1] - a[1] + 2 * half, r: 6},
            style: {fill: goGroupColors[params.dataIndex]}};
    }});
// E
keggGroupNames.forEach(function (name, i) {
    series.push({type: 'bar', name: name, xAxisIndex: 8, yAxisIndex: 8, stack: 'kegg', barWidth: 26.5,
        data: groupValues(keggCounts, keggGroupSpans[i]), itemStyle: {color: keggGroupColors[i]}});
});
series.push({type: 'custom', xAxisIndex: 8, yAxisIndex: 8, silent: true,
    data: keggGroupSpans.map(function (s) { return [s[0], 339]; }), encode: {x: 0, y: 1},
    renderItem: function (params, api) {
        var span = keggGroupSpans[params.dataIndex];
        var half = api.size([1, 0])[0] * 0.335;
        var a = api.coord([span[0], 351]), b = api.coord([span[1], 339]);
        return {type: 'rect', shape: {x: a[0] - half, y: a[1], width: b[0] - a[0] + 2 * half, height: b[1] - a[1], r: 7},
            style: {fill: keggGroupColors[params.dataIndex]}};
    }});

function panelLetter(t, x, y) {
    return {type: 'text', x: x, y: y, style: {text: t, fontSize: 30, fontFamily: SERIF, fill: '#111', align: 'center', verticalAlign: 'middle'}};
}

var option = {
    animation: false,
    backgroundColor: '#fff',
    grid: [
        {left: 98, top: 59, width: 739, height: 493},                 // 0 A
        {left: 114, top: 637, width: 706, height: 563, show: true, borderColor: '#777', borderWidth: 3},  // 1 B
        {left: 892.3, top: TREE_TOP, width: 368.5, height: TREE_H},    // 2 tree
        {left: 1261.6, top: TREE_TOP, width: 34.4, height: TREE_H},    // 3 strip
        {left: 1306.5, top: TREE_TOP, width: 269, height: TREE_H},     // 4 heat
        {left: 1584, top: TREE_TOP, width: 188, height: TREE_H},       // 5 labels
        {left: 981, top: 1097, width: 23, height: 101},                // 6 colour scale
        {left: 255, top: 1334, width: 596.7, height: 706},             // 7 D
        {left: 980, top: 1343, width: 790, height: 469.6},             // 8 E
        {left: 980, top: 1342, width: 790, height: 390}                // 9 E tick text
    ],
    xAxis: [
        {gridIndex: 0, type: 'value', min: -0.5, max: 4.06,
            splitLine: {show: false},
            axisLine: {show: true, onZero: false, lineStyle: {color: '#222', width: 2}},
            axisTick: {show: true, length: 7, customValues: daySlots, lineStyle: {color: '#444', width: 2}},
            axisLabel: {customValues: daySlots, margin: 19, color: '#111', fontSize: 20, fontWeight: 'bold', fontFamily: SERIF, padding: [0, 4, 0, 0],
                formatter: function (v) { return dayLabels[daySlots.indexOf(v)]; }}},
        {gridIndex: 1, type: 'value', min: -30, max: 15, interval: 5,
            name: 'Log2FC', nameLocation: 'middle', nameGap: 33,
            nameTextStyle: {fontSize: 22, fontWeight: 'bold', color: '#222', fontFamily: SANS},
            splitLine: {show: false},
            axisLine: {show: true, onZero: false, lineStyle: {color: '#000', width: 3}},
            axisTick: {show: true, length: 7, lineStyle: {color: '#000', width: 2}},
            axisLabel: {color: '#333', fontSize: 17, fontFamily: SANS, margin: 10, showMinLabel: true, showMaxLabel: true}},
        {gridIndex: 2, type: 'value', min: 0, max: 99.7, inverse: true, show: false},
        {gridIndex: 3, type: 'category', data: ['cluster'], show: false},
        {gridIndex: 4, type: 'category', data: heatColumns, show: false},
        {gridIndex: 5, type: 'value', min: 0, max: 1, show: false},
        {gridIndex: 6, type: 'value', min: 0, max: 1, show: false},
        {gridIndex: 7, type: 'value', min: 0, max: 4000, interval: 500,
            name: 'Number of genes', nameLocation: 'middle', nameGap: 36,
            nameTextStyle: {fontSize: 18, fontWeight: 'bold', color: '#222', fontFamily: SANS},
            splitLine: {show: false},
            axisLine: {show: true, onZero: false, lineStyle: {color: '#222', width: 1.5}},
            axisTick: {show: true, length: 6, lineStyle: {color: '#222'}},
            axisLabel: {color: '#333', fontSize: 16, fontFamily: SANS, margin: 9, showMinLabel: true, showMaxLabel: true, formatter: plainNumber}},
        {gridIndex: 8, type: 'category', data: keggTerms,
            axisLine: {show: true, onZero: false, lineStyle: {color: '#333', width: 1.5}},
            axisTick: {show: true, alignWithLabel: true, length: 7, lineStyle: {color: '#333'}},
            axisLabel: {interval: 0, rotate: 65, margin: 9, color: '#444', fontSize: 15, fontFamily: SANS}},
        {gridIndex: 9, type: 'value', min: 0, max: 1, show: false}
    ],
    yAxis: [
        {gridIndex: 0, type: 'value', min: 0, max: 3500, interval: 500,
            name: 'Number of DEGs', nameLocation: 'middle', nameGap: 64,
            nameTextStyle: {fontSize: 23, fontWeight: 'bold', color: '#222', fontFamily: SANS},
            splitLine: {show: false},
            axisLine: {show: true, onZero: false, lineStyle: {color: '#555', width: 2}},
            axisTick: {show: true, length: 8, lineStyle: {color: '#555', width: 2}},
            axisLabel: {color: '#444', fontSize: 17, fontFamily: SANS, margin: 13, formatter: plainNumber}},
        {gridIndex: 1, type: 'value', min: 0, max: 80, interval: 10,
            name: '-Log10(Padjust)', nameLocation: 'middle', nameGap: 56,
            nameTextStyle: {fontSize: 20, fontWeight: 'bold', color: '#222', fontFamily: SANS},
            splitLine: {show: false},
            axisLine: {show: true, onZero: false, lineStyle: {color: '#000', width: 3}},
            axisTick: {show: true, length: 7, lineStyle: {color: '#000', width: 2}},
            axisLabel: {color: '#333', fontSize: 17, fontFamily: SANS, margin: 15}},
        {gridIndex: 2, type: 'value', min: 0, max: 158, inverse: true, show: false},
        {gridIndex: 3, type: 'category', data: rowNames, inverse: true, show: false},
        {gridIndex: 4, type: 'category', data: rowNames, inverse: true, show: false},
        {gridIndex: 5, type: 'value', min: 0, max: 158, inverse: true, show: false},
        {gridIndex: 6, type: 'value', min: -4, max: 4, interval: 2, position: 'right',
            splitLine: {show: false}, axisLine: {show: false},
            axisTick: {show: true, length: 3, lineStyle: {color: '#777'}},
            axisLabel: {color: '#555', fontSize: 12, fontFamily: SANS, margin: 5}},
        {gridIndex: 7, type: 'category', data: goTerms, inverse: true,
            axisLine: {show: true, onZero: false, lineStyle: {color: '#222', width: 1.5}},
            axisTick: {show: true, alignWithLabel: true, length: 7, lineStyle: {color: '#222', width: 1.5}},
            axisLabel: {interval: 0, color: '#333', fontSize: 15.2, fontFamily: SANS, margin: 12}},
        {gridIndex: 8, type: 'value', min: 0, max: 350, interval: 50,
            splitLine: {show: false},
            axisLine: {show: true, onZero: false, lineStyle: {color: '#333', width: 1.5}},
            axisTick: {show: true, length: 9, lineStyle: {color: '#333'}},
            axisLabel: {show: false}},
        // the printed tick text sits off the tick marks in the source figure
        {gridIndex: 9, type: 'value', min: 0, max: 350, interval: 50,
            splitLine: {show: false}, axisLine: {show: false}, axisTick: {show: false},
            axisLabel: {color: '#444', fontSize: 14, fontFamily: SANS, margin: 13}}
    ],
    legend: [
        {left: 145, top: 688, padding: 0, orient: 'vertical', icon: 'circle', itemWidth: 16, itemHeight: 16, itemGap: 15.5,
            data: ['up(2946)', 'nosig(20363)', 'down(3427)'], selectedMode: false,
            textStyle: {fontSize: 16, fontWeight: 'bold', color: '#222', fontFamily: SANS}},
        {left: 681, top: 1346, padding: 0, orient: 'vertical', icon: 'rect', itemWidth: 16, itemHeight: 17, itemGap: 11.5,
            data: goGroupNames, selectedMode: false,
            textStyle: {fontSize: 14, color: '#333', fontFamily: SANS, padding: [0, 0, 0, 5]}},
        {left: 1510, top: 1367, padding: 0, orient: 'vertical', icon: 'rect', itemWidth: 14, itemHeight: 17, itemGap: 12.3,
            data: keggGroupNames, selectedMode: false,
            textStyle: {fontSize: 13.6, color: '#444', fontFamily: SANS, padding: [0, 0, 0, 5]}}
    ],
    visualMap: {
        type: 'continuous', seriesIndex: heatSeriesIndex, min: -4, max: 4,
        left: 981, top: 1097, itemWidth: 23, itemHeight: 101, padding: 0,
        calculable: false, hoverLink: false, text: null, showLabel: false,
        inRange: {color: ['#0000ff', '#9090ff', '#ffffff', '#ff9090', '#ff0000']}
    },
    graphic: [
        panelLetter('A', 14, 75),
        panelLetter('B', 12, 678),
        panelLetter('C', 968, 170),
        panelLetter('D', 10, 1367),
        panelLetter('E', 910, 1368),
        {type: 'text', x: 146, y: 667, style: {text: 'Significant', fontSize: 16, fontWeight: 'bold', fontFamily: SANS, fill: '#222', verticalAlign: 'middle'}},
        {type: 'text', x: 1377, y: 1293, style: {text: 'GD68', fontSize: 19, fontWeight: 'bold', fontFamily: SERIF, fill: '#111', align: 'center', verticalAlign: 'middle'}},
        {type: 'text', x: 1507, y: 1293, style: {text: 'HM25', fontSize: 19, fontWeight: 'bold', fontFamily: SERIF, fill: '#111', align: 'center', verticalAlign: 'middle'}},
        {type: 'text', x: 915, y: 1600, rotation: Math.PI / 2, style: {text: 'Number of genes', fontSize: 16, fontWeight: 'bold', fontFamily: SANS, fill: '#222', align: 'center', verticalAlign: 'middle'}}
    ],
    series: series
};
chart.setOption(option);
</script>
</body>
</html>
